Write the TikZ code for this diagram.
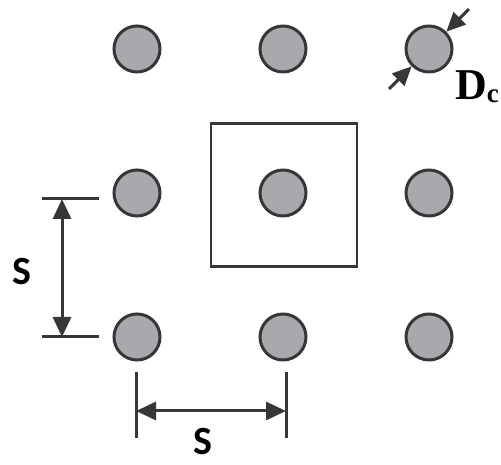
\documentclass[tikz,border=0pt]{standalone}
\usepackage{fontspec}
\setmainfont{Liberation Serif}
\newfontfamily\dimfont{Carlito}
\usetikzlibrary{arrows.meta,positioning,calc}

\definecolor{pilegray}{RGB}{168,168,173}
\definecolor{edgegray}{RGB}{55,55,55}

\tikzset{
  pile/.style={circle,draw=edgegray,fill=pilegray,line width=3pt,minimum size=46pt,inner sep=0pt},
  cellbox/.style={draw=edgegray,line width=2.8pt,minimum width=146pt,minimum height=143pt,inner sep=0pt},
  tickline/.style={draw=edgegray,line width=3pt},
  dimarrow/.style={draw=edgegray,line width=3pt,{Triangle[length=20pt,width=18pt]}-{Triangle[length=20pt,width=18pt]}},
  diaarrow/.style={draw=edgegray,line width=3pt,-{Triangle[length=19pt,width=17pt]}},
  dimlabel/.style={font=\dimfont\bfseries\fontsize{40}{40}\selectfont,inner sep=0pt}
}

\begin{document}
\begin{tikzpicture}[x=1pt,y=1pt]
  \useasboundingbox (0,0) rectangle (501,465);
  \pgfmathsetmacro {\xo}{137}   %first column
  \pgfmathsetmacro {\yo}{416}   %first row
  \pgfmathsetmacro {\sx}{146}   %column spacing
  \pgfmathsetmacro {\sy}{144}   %row spacing

  %Draw the piles
  \foreach \i in {1,2,3}
    \foreach \j in {1,2,3}
      \node[pile] (p\j\i) at ({\xo+(\i-1)*\sx},{\yo-(\j-1)*\sy}) {};

  %Unit cell round the middle pile
  \node[cellbox,xshift=1pt,yshift=-2pt] (cell) at (p22) {};

  %Vertical spacing
  \coordinate (vta) at (42,266);  \coordinate (vtb) at (99,266);
  \coordinate (vba) at (42,128);  \coordinate (vbb) at (99,128);
  \coordinate (va) at (62,266);   \coordinate (vb) at (62,128);
  \draw[tickline] (vta) -- (vtb);
  \draw[tickline] (vba) -- (vbb);
  \draw[dimarrow] (va) -- (vb);
  \node[dimlabel] (sleft) at (22,193) {S};

  %Horizontal spacing
  \coordinate (hla) at (136,93);  \coordinate (hlb) at (136,27);
  \coordinate (hra) at (286,93);  \coordinate (hrb) at (286,27);
  \coordinate (ha) at (136,54);   \coordinate (hb) at (286,54);
  \draw[tickline] (hla) -- (hlb);
  \draw[tickline] (hra) -- (hrb);
  \draw[dimarrow] (ha) -- (hb);
  \node[dimlabel] (sbot) at (203,23) {S};

  %Pile diameter
  \coordinate (dup) at ($(p13.45)+(45:32)$);
  \coordinate (ddown) at ($(p13.225)+(225:32)$);
  \draw[diaarrow] (dup) -- (p13.45);
  \draw[diaarrow] (ddown) -- (p13.225);
  \node[anchor=base west,inner sep=0pt,font=\bfseries\fontsize{44}{44}\selectfont] (dlabel) at (455,365)
    {D\raisebox{-3pt}{\fontsize{27}{27}\selectfont c}};
\end{tikzpicture}
\end{document}
